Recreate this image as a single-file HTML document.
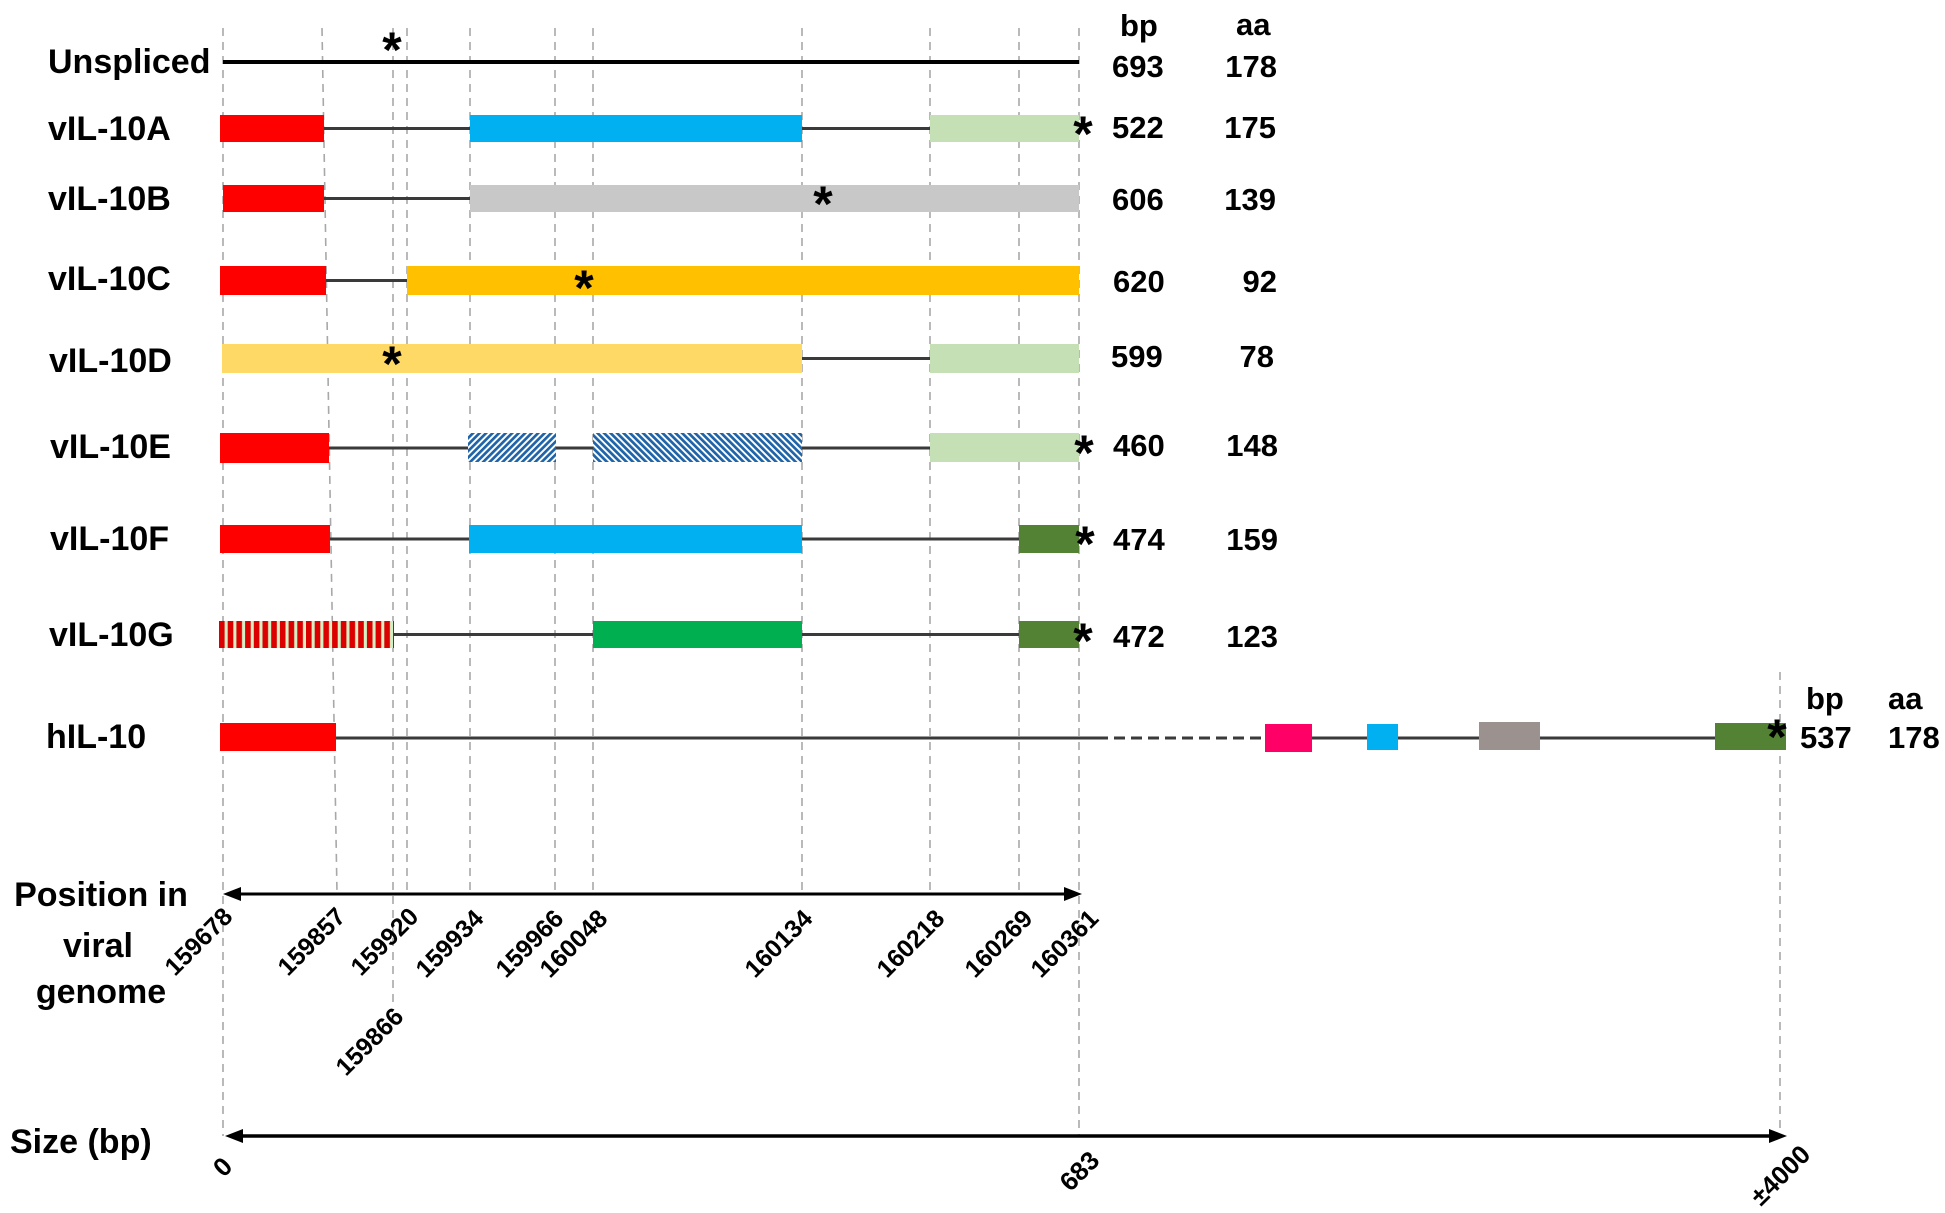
<!DOCTYPE html>
<html>
<head>
<meta charset="utf-8">
<style>
  html, body { margin: 0; padding: 0; background: #ffffff; }
  svg { display: block; }
  text { font-family: "Liberation Sans", Arial, sans-serif; font-weight: bold; fill: #000; }
</style>
</head>
<body>
<svg width="1945" height="1213" viewBox="0 0 1945 1213" xmlns="http://www.w3.org/2000/svg">
  <defs>
    <pattern id="hatchF" patternUnits="userSpaceOnUse" width="4.6" height="4.6" patternTransform="rotate(45)">
      <rect x="0" y="0" width="4.6" height="4.6" fill="#ffffff"/>
      <rect x="0" y="0" width="2.7" height="4.6" fill="#1f64a8"/>
    </pattern>
    <pattern id="hatchB" patternUnits="userSpaceOnUse" width="4.6" height="4.6" patternTransform="rotate(-45)">
      <rect x="0" y="0" width="4.6" height="4.6" fill="#ffffff"/>
      <rect x="0" y="0" width="2.7" height="4.6" fill="#1f64a8"/>
    </pattern>
    <pattern id="stripeG" patternUnits="userSpaceOnUse" x="219" y="0" width="8.7" height="20">
      <rect x="0" y="0" width="8.7" height="20" fill="#d3f0c4"/>
      <rect x="0" y="0" width="5.6" height="20" fill="#dc0000"/>
    </pattern>
  </defs>

  <rect x="0" y="0" width="1945" height="1213" fill="#ffffff"/>

  <!-- vertical dashed guide lines -->
  <g stroke="#a8a8a8" stroke-width="1.6" stroke-dasharray="8 6" fill="none">
    <line x1="223" y1="28" x2="223" y2="1136"/>
    <line x1="322" y1="28" x2="337" y2="893"/>
    <line x1="393" y1="28" x2="393" y2="1005"/>
    <line x1="407" y1="28" x2="407" y2="893"/>
    <line x1="470" y1="28" x2="470" y2="893"/>
    <line x1="555" y1="28" x2="555" y2="893"/>
    <line x1="593" y1="28" x2="593" y2="893"/>
    <line x1="802" y1="28" x2="802" y2="893"/>
    <line x1="930" y1="28" x2="930" y2="893"/>
    <line x1="1019" y1="28" x2="1019" y2="893"/>
    <line x1="1079" y1="28" x2="1079" y2="1136"/>
    <line x1="1780" y1="672" x2="1780" y2="1128"/>
  </g>

  <!-- header -->
  <text x="1120" y="36" font-size="31">bp</text>
  <text x="1236" y="35" font-size="31">aa</text>

  <!-- Row labels -->
  <g font-size="34">
    <text x="48" y="73">Unspliced</text>
    <text x="48" y="140">vIL-10A</text>
    <text x="48" y="210">vIL-10B</text>
    <text x="48" y="290">vIL-10C</text>
    <text x="49" y="372">vIL-10D</text>
    <text x="50" y="458">vIL-10E</text>
    <text x="50" y="550">vIL-10F</text>
    <text x="49" y="646">vIL-10G</text>
    <text x="46" y="748">hIL-10</text>
  </g>

  <!-- Unspliced -->
  <line x1="223" y1="62" x2="1079" y2="62" stroke="#000" stroke-width="4"/>

  <!-- intron lines -->
  <g stroke="#3a3a3a" stroke-width="3">
    <line x1="324" y1="128.5" x2="470" y2="128.5"/>
    <line x1="802" y1="128.5" x2="930" y2="128.5"/>
    <line x1="324" y1="198.5" x2="470" y2="198.5"/>
    <line x1="326" y1="280.5" x2="407" y2="280.5"/>
    <line x1="802" y1="358.5" x2="930" y2="358.5"/>
    <line x1="329" y1="448" x2="468" y2="448"/>
    <line x1="556" y1="448" x2="593" y2="448"/>
    <line x1="802" y1="448" x2="930" y2="448"/>
    <line x1="330" y1="539" x2="469" y2="539"/>
    <line x1="802" y1="539" x2="1019" y2="539"/>
    <line x1="393" y1="634.5" x2="593" y2="634.5"/>
    <line x1="802" y1="634.5" x2="1019" y2="634.5"/>
    <line x1="336" y1="738" x2="1097" y2="738"/>
    <line x1="1097" y1="738" x2="1262" y2="738" stroke-dasharray="11 6"/>
    <line x1="1312" y1="738" x2="1367" y2="738"/>
    <line x1="1398" y1="738" x2="1479" y2="738"/>
    <line x1="1540" y1="738" x2="1715" y2="738"/>
  </g>

  <!-- vIL-10A -->
  <rect x="220" y="115" width="104" height="27" fill="#fe0000"/>
  <rect x="470" y="115" width="332" height="27" fill="#00b0f0"/>
  <rect x="930" y="115" width="149" height="27" fill="#c5e0b4"/>

  <!-- vIL-10B -->
  <rect x="223" y="185" width="101" height="27" fill="#fe0000"/>
  <rect x="470" y="185" width="609" height="27" fill="#c8c8c8"/>

  <!-- vIL-10C -->
  <rect x="220" y="266" width="106" height="29" fill="#fe0000"/>
  <rect x="407" y="266" width="672" height="29" fill="#ffc000"/>

  <!-- vIL-10D -->
  <rect x="222" y="344" width="580" height="29" fill="#ffd966"/>
  <rect x="930" y="344" width="149" height="29" fill="#c5e0b4"/>

  <!-- vIL-10E -->
  <rect x="220" y="433" width="109" height="30" fill="#fe0000"/>
  <rect x="468" y="433" width="88" height="29" fill="url(#hatchF)"/>
  <rect x="593" y="433" width="209" height="29" fill="url(#hatchB)"/>
  <rect x="930" y="433" width="149" height="29" fill="#c5e0b4"/>

  <!-- vIL-10F -->
  <rect x="220" y="525" width="110" height="28" fill="#fe0000"/>
  <rect x="469" y="525" width="333" height="28" fill="#00b0f0"/>
  <rect x="1019" y="525" width="60" height="28" fill="#548235"/>

  <!-- vIL-10G -->
  <rect x="219" y="621" width="175" height="27" fill="url(#stripeG)"/>
  <rect x="593" y="621" width="209" height="27" fill="#00b050"/>
  <rect x="1019" y="621" width="60" height="27" fill="#548235"/>

  <!-- hIL-10 -->
  <rect x="220" y="723" width="116" height="28" fill="#fe0000"/>
  <rect x="1265" y="724" width="47" height="28" fill="#ff0066"/>
  <rect x="1367" y="724" width="31" height="26" fill="#00b0f0"/>
  <rect x="1479" y="722" width="61" height="28" fill="#9b918e"/>
  <rect x="1715" y="723" width="71" height="27" fill="#548235"/>

  <!-- asterisks -->
  <g font-size="50" text-anchor="middle">
    <text x="392" y="67">*</text>
    <text x="1083" y="151">*</text>
    <text x="823" y="221">*</text>
    <text x="584" y="305">*</text>
    <text x="392" y="381">*</text>
    <text x="1084" y="470">*</text>
    <text x="1085" y="561">*</text>
    <text x="1083" y="658">*</text>
    <text x="1777" y="754">*</text>
  </g>

  <!-- bp / aa numbers -->
  <g font-size="31">
    <text x="1112" y="77">693</text>
    <text x="1112" y="138">522</text>
    <text x="1112" y="210">606</text>
    <text x="1113" y="292">620</text>
    <text x="1111" y="367">599</text>
    <text x="1113" y="456">460</text>
    <text x="1113" y="550">474</text>
    <text x="1113" y="647">472</text>
  </g>
  <g font-size="31" text-anchor="end">
    <text x="1277" y="77">178</text>
    <text x="1276" y="138">175</text>
    <text x="1276" y="210">139</text>
    <text x="1277" y="292">92</text>
    <text x="1274" y="367">78</text>
    <text x="1278" y="456">148</text>
    <text x="1278" y="550">159</text>
    <text x="1278" y="647">123</text>
  </g>

  <!-- hIL-10 numbers -->
  <text x="1806" y="709" font-size="31">bp</text>
  <text x="1888" y="709" font-size="31">aa</text>
  <text x="1800" y="748" font-size="31">537</text>
  <text x="1888" y="748" font-size="31">178</text>

  <!-- Position axis -->
  <g font-size="34" text-anchor="middle">
    <text x="101" y="906">Position in</text>
    <text x="98" y="957">viral</text>
    <text x="101" y="1003">genome</text>
  </g>
  <line x1="236" y1="894" x2="1069" y2="894" stroke="#000" stroke-width="3"/>
  <polygon points="223,894 241,887 241,901" fill="#000"/>
  <polygon points="1082,894 1064,887 1064,901" fill="#000"/>

  <g font-size="25" text-anchor="end">
    <text transform="translate(234,918) rotate(-45)">159678</text>
    <text transform="translate(347,918) rotate(-45)">159857</text>
    <text transform="translate(420,918) rotate(-45)">159920</text>
    <text transform="translate(485,920) rotate(-45)">159934</text>
    <text transform="translate(565,920) rotate(-45)">159966</text>
    <text transform="translate(609,920) rotate(-45)">160048</text>
    <text transform="translate(814,920) rotate(-45)">160134</text>
    <text transform="translate(946,920) rotate(-45)">160218</text>
    <text transform="translate(1034,920) rotate(-45)">160269</text>
    <text transform="translate(1100,920) rotate(-45)">160361</text>
    <text transform="translate(405,1018) rotate(-45)">159866</text>
  </g>

  <!-- Size axis -->
  <text x="10" y="1153" font-size="34">Size (bp)</text>
  <line x1="238" y1="1136" x2="1774" y2="1136" stroke="#000" stroke-width="3.5"/>
  <polygon points="225,1136 243,1129 243,1143" fill="#000"/>
  <polygon points="1787,1136 1769,1129 1769,1143" fill="#000"/>
  <g font-size="26" text-anchor="end">
    <text transform="translate(234,1168) rotate(-45)">0</text>
    <text transform="translate(1101,1162) rotate(-45)">683</text>
    <text transform="translate(1812,1156) rotate(-45)">±4000</text>
  </g>
</svg>
</body>
</html>
